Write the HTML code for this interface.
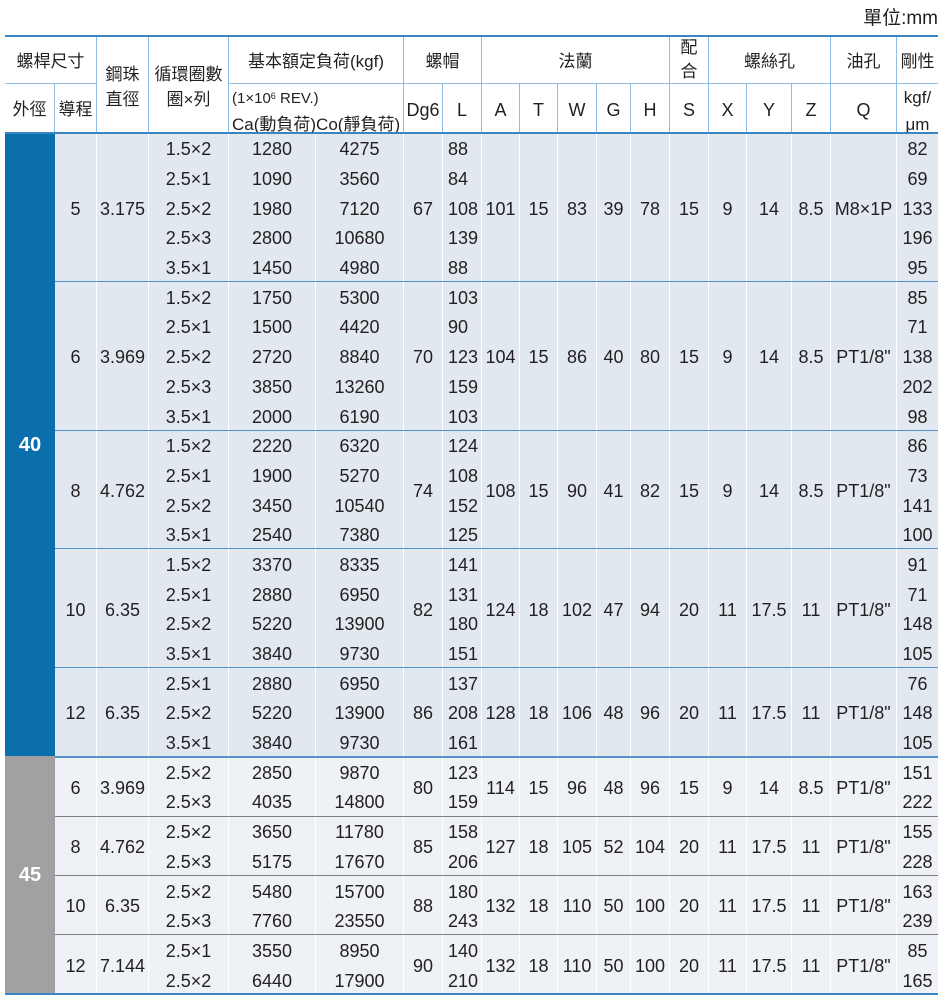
<!DOCTYPE html>
<html><head><meta charset="utf-8">
<style>
html,body{margin:0;padding:0;}
body{background:#fff;width:946px;height:1002px;position:relative;overflow:hidden;font-family:"Liberation Sans","Noto Sans CJK TC",sans-serif;color:#231f20;}
.unit{position:absolute;right:8px;top:7px;font-size:19px;line-height:24px;white-space:nowrap;}
.g{position:absolute;left:5px;top:36px;display:grid;grid-template-columns:50px 42px 52px 80px 87px 88px 39px 39px 38px 38px 39px 34px 39px 39px 38px 45px 39px 66px 41px;grid-template-rows:47px 50px repeat(29,29.7px);}
.g>i{font-style:normal;display:flex;align-items:center;justify-content:center;font-size:18px;box-sizing:border-box;white-space:nowrap;line-height:22px;}
.g>i.h{border-right:1px solid #8fbde3;font-size:17px;padding-top:4px;text-align:center;}
.g>i.h2{border-top:1px solid #8fbde3;padding-top:2px;}
.g>i.t{line-height:25px;padding-top:5px;}
.g>i.a{background:#e2e8f0;border-right:1px solid #fff;padding-top:3px;}
.g>i.b{background:#eef1f6;border-right:1px solid #fff;padding-top:3px;}
.g>i.L{justify-content:flex-start;padding-left:5px;}
.g>i.l{border-right:0;}
.g>i.bl{background:#0b6fad;color:#fff;font-weight:bold;font-size:20px;}
.g>i.gr{background:#a1a1a1;color:#fff;font-weight:bold;font-size:20px;}
.ln{position:absolute;left:55px;width:883px;height:1px;}
.bu{background:#5592c9;}
.gy{background:#7f7f7f;}
sup{font-size:9px;vertical-align:top;position:relative;top:-2px;}
</style></head><body>
<div class="unit">單位:mm</div>
<div class="g">
<!-- header row 1 -->
<i class="h" style="grid-area:1/1/2/3">螺桿尺寸</i>
<i class="h t" style="grid-area:1/3/3/4">鋼珠<br>直徑</i>
<i class="h t" style="grid-area:1/4/3/5">循環圈數<br>圈×列</i>
<i class="h" style="grid-area:1/5/2/7">基本額定負荷(kgf)</i>
<i class="h" style="grid-area:1/7/2/9">螺帽</i>
<i class="h" style="grid-area:1/9/2/14">法蘭</i>
<i class="h" style="grid-area:1/14/2/15;line-height:24px;padding-top:0">配<br>合</i>
<i class="h" style="grid-area:1/15/2/18">螺絲孔</i>
<i class="h" style="grid-area:1/18/2/19">油孔</i>
<i class="h l" style="grid-area:1/19/2/20">剛性</i>
<!-- header row 2 -->
<i class="h h2" style="grid-area:2/1">外徑</i>
<i class="h h2" style="grid-area:2/2">導程</i>
<i class="h h2" style="grid-area:2/5/3/7;justify-content:flex-start;padding-left:3px;padding-top:5px;line-height:26px;text-align:left"><span><span style="font-size:15px">(1×10<sup>6</sup> REV.)</span><br>Ca(動負荷)Co(靜負荷)</span></i>
<i class="h h2" style="grid-area:2/7;font-size:18px">Dg6</i>
<i class="h h2" style="grid-area:2/8;font-size:18px">L</i>
<i class="h h2" style="grid-area:2/9;font-size:18px">A</i>
<i class="h h2" style="grid-area:2/10;font-size:18px">T</i>
<i class="h h2" style="grid-area:2/11;font-size:18px">W</i>
<i class="h h2" style="grid-area:2/12;font-size:18px">G</i>
<i class="h h2" style="grid-area:2/13;font-size:18px">H</i>
<i class="h h2" style="grid-area:2/14;font-size:18px">S</i>
<i class="h h2" style="grid-area:2/15;font-size:18px">X</i>
<i class="h h2" style="grid-area:2/16;font-size:18px">Y</i>
<i class="h h2" style="grid-area:2/17;font-size:18px">Z</i>
<i class="h h2" style="grid-area:2/18;font-size:18px">Q</i>
<i class="h h2 l" style="grid-area:2/19;line-height:27px;padding-top:4px">kgf/<br>μm</i>

<!-- left column -->
<i class="bl" style="grid-area:3/1/24/2">40</i>
<i class="gr" style="grid-area:24/1/32/2">45</i>

<!-- G1 rows 3-7 -->
<i class="a" style="grid-area:3/2/8/3">5</i>
<i class="a" style="grid-area:3/3/8/4">3.175</i>
<i class="a" style="grid-area:3/4">1.5×2</i><i class="a" style="grid-area:3/5">1280</i><i class="a" style="grid-area:3/6">4275</i><i class="a L" style="grid-area:3/8">88</i><i class="a l" style="grid-area:3/19">82</i>
<i class="a" style="grid-area:4/4">2.5×1</i><i class="a" style="grid-area:4/5">1090</i><i class="a" style="grid-area:4/6">3560</i><i class="a L" style="grid-area:4/8">84</i><i class="a l" style="grid-area:4/19">69</i>
<i class="a" style="grid-area:5/4">2.5×2</i><i class="a" style="grid-area:5/5">1980</i><i class="a" style="grid-area:5/6">7120</i><i class="a L" style="grid-area:5/8">108</i><i class="a l" style="grid-area:5/19">133</i>
<i class="a" style="grid-area:6/4">2.5×3</i><i class="a" style="grid-area:6/5">2800</i><i class="a" style="grid-area:6/6">10680</i><i class="a L" style="grid-area:6/8">139</i><i class="a l" style="grid-area:6/19">196</i>
<i class="a" style="grid-area:7/4">3.5×1</i><i class="a" style="grid-area:7/5">1450</i><i class="a" style="grid-area:7/6">4980</i><i class="a L" style="grid-area:7/8">88</i><i class="a l" style="grid-area:7/19">95</i>
<i class="a" style="grid-area:3/7/8/8">67</i>
<i class="a" style="grid-area:3/9/8/10">101</i>
<i class="a" style="grid-area:3/10/8/11">15</i>
<i class="a" style="grid-area:3/11/8/12">83</i>
<i class="a" style="grid-area:3/12/8/13">39</i>
<i class="a" style="grid-area:3/13/8/14">78</i>
<i class="a" style="grid-area:3/14/8/15">15</i>
<i class="a" style="grid-area:3/15/8/16">9</i>
<i class="a" style="grid-area:3/16/8/17">14</i>
<i class="a" style="grid-area:3/17/8/18">8.5</i>
<i class="a" style="grid-area:3/18/8/19">M8×1P</i>

<!-- G2 rows 8-12 -->
<i class="a" style="grid-area:8/2/13/3">6</i>
<i class="a" style="grid-area:8/3/13/4">3.969</i>
<i class="a" style="grid-area:8/4">1.5×2</i><i class="a" style="grid-area:8/5">1750</i><i class="a" style="grid-area:8/6">5300</i><i class="a L" style="grid-area:8/8">103</i><i class="a l" style="grid-area:8/19">85</i>
<i class="a" style="grid-area:9/4">2.5×1</i><i class="a" style="grid-area:9/5">1500</i><i class="a" style="grid-area:9/6">4420</i><i class="a L" style="grid-area:9/8">90</i><i class="a l" style="grid-area:9/19">71</i>
<i class="a" style="grid-area:10/4">2.5×2</i><i class="a" style="grid-area:10/5">2720</i><i class="a" style="grid-area:10/6">8840</i><i class="a L" style="grid-area:10/8">123</i><i class="a l" style="grid-area:10/19">138</i>
<i class="a" style="grid-area:11/4">2.5×3</i><i class="a" style="grid-area:11/5">3850</i><i class="a" style="grid-area:11/6">13260</i><i class="a L" style="grid-area:11/8">159</i><i class="a l" style="grid-area:11/19">202</i>
<i class="a" style="grid-area:12/4">3.5×1</i><i class="a" style="grid-area:12/5">2000</i><i class="a" style="grid-area:12/6">6190</i><i class="a L" style="grid-area:12/8">103</i><i class="a l" style="grid-area:12/19">98</i>
<i class="a" style="grid-area:8/7/13/8">70</i>
<i class="a" style="grid-area:8/9/13/10">104</i>
<i class="a" style="grid-area:8/10/13/11">15</i>
<i class="a" style="grid-area:8/11/13/12">86</i>
<i class="a" style="grid-area:8/12/13/13">40</i>
<i class="a" style="grid-area:8/13/13/14">80</i>
<i class="a" style="grid-area:8/14/13/15">15</i>
<i class="a" style="grid-area:8/15/13/16">9</i>
<i class="a" style="grid-area:8/16/13/17">14</i>
<i class="a" style="grid-area:8/17/13/18">8.5</i>
<i class="a" style="grid-area:8/18/13/19">PT1/8"</i>

<!-- G3 rows 13-16 -->
<i class="a" style="grid-area:13/2/17/3">8</i>
<i class="a" style="grid-area:13/3/17/4">4.762</i>
<i class="a" style="grid-area:13/4">1.5×2</i><i class="a" style="grid-area:13/5">2220</i><i class="a" style="grid-area:13/6">6320</i><i class="a L" style="grid-area:13/8">124</i><i class="a l" style="grid-area:13/19">86</i>
<i class="a" style="grid-area:14/4">2.5×1</i><i class="a" style="grid-area:14/5">1900</i><i class="a" style="grid-area:14/6">5270</i><i class="a L" style="grid-area:14/8">108</i><i class="a l" style="grid-area:14/19">73</i>
<i class="a" style="grid-area:15/4">2.5×2</i><i class="a" style="grid-area:15/5">3450</i><i class="a" style="grid-area:15/6">10540</i><i class="a L" style="grid-area:15/8">152</i><i class="a l" style="grid-area:15/19">141</i>
<i class="a" style="grid-area:16/4">3.5×1</i><i class="a" style="grid-area:16/5">2540</i><i class="a" style="grid-area:16/6">7380</i><i class="a L" style="grid-area:16/8">125</i><i class="a l" style="grid-area:16/19">100</i>
<i class="a" style="grid-area:13/7/17/8">74</i>
<i class="a" style="grid-area:13/9/17/10">108</i>
<i class="a" style="grid-area:13/10/17/11">15</i>
<i class="a" style="grid-area:13/11/17/12">90</i>
<i class="a" style="grid-area:13/12/17/13">41</i>
<i class="a" style="grid-area:13/13/17/14">82</i>
<i class="a" style="grid-area:13/14/17/15">15</i>
<i class="a" style="grid-area:13/15/17/16">9</i>
<i class="a" style="grid-area:13/16/17/17">14</i>
<i class="a" style="grid-area:13/17/17/18">8.5</i>
<i class="a" style="grid-area:13/18/17/19">PT1/8"</i>

<!-- G4 rows 17-20 -->
<i class="a" style="grid-area:17/2/21/3">10</i>
<i class="a" style="grid-area:17/3/21/4">6.35</i>
<i class="a" style="grid-area:17/4">1.5×2</i><i class="a" style="grid-area:17/5">3370</i><i class="a" style="grid-area:17/6">8335</i><i class="a L" style="grid-area:17/8">141</i><i class="a l" style="grid-area:17/19">91</i>
<i class="a" style="grid-area:18/4">2.5×1</i><i class="a" style="grid-area:18/5">2880</i><i class="a" style="grid-area:18/6">6950</i><i class="a L" style="grid-area:18/8">131</i><i class="a l" style="grid-area:18/19">71</i>
<i class="a" style="grid-area:19/4">2.5×2</i><i class="a" style="grid-area:19/5">5220</i><i class="a" style="grid-area:19/6">13900</i><i class="a L" style="grid-area:19/8">180</i><i class="a l" style="grid-area:19/19">148</i>
<i class="a" style="grid-area:20/4">3.5×1</i><i class="a" style="grid-area:20/5">3840</i><i class="a" style="grid-area:20/6">9730</i><i class="a L" style="grid-area:20/8">151</i><i class="a l" style="grid-area:20/19">105</i>
<i class="a" style="grid-area:17/7/21/8">82</i>
<i class="a" style="grid-area:17/9/21/10">124</i>
<i class="a" style="grid-area:17/10/21/11">18</i>
<i class="a" style="grid-area:17/11/21/12">102</i>
<i class="a" style="grid-area:17/12/21/13">47</i>
<i class="a" style="grid-area:17/13/21/14">94</i>
<i class="a" style="grid-area:17/14/21/15">20</i>
<i class="a" style="grid-area:17/15/21/16">11</i>
<i class="a" style="grid-area:17/16/21/17">17.5</i>
<i class="a" style="grid-area:17/17/21/18">11</i>
<i class="a" style="grid-area:17/18/21/19">PT1/8"</i>

<!-- G5 rows 21-23 -->
<i class="a" style="grid-area:21/2/24/3">12</i>
<i class="a" style="grid-area:21/3/24/4">6.35</i>
<i class="a" style="grid-area:21/4">2.5×1</i><i class="a" style="grid-area:21/5">2880</i><i class="a" style="grid-area:21/6">6950</i><i class="a L" style="grid-area:21/8">137</i><i class="a l" style="grid-area:21/19">76</i>
<i class="a" style="grid-area:22/4">2.5×2</i><i class="a" style="grid-area:22/5">5220</i><i class="a" style="grid-area:22/6">13900</i><i class="a L" style="grid-area:22/8">208</i><i class="a l" style="grid-area:22/19">148</i>
<i class="a" style="grid-area:23/4">3.5×1</i><i class="a" style="grid-area:23/5">3840</i><i class="a" style="grid-area:23/6">9730</i><i class="a L" style="grid-area:23/8">161</i><i class="a l" style="grid-area:23/19">105</i>
<i class="a" style="grid-area:21/7/24/8">86</i>
<i class="a" style="grid-area:21/9/24/10">128</i>
<i class="a" style="grid-area:21/10/24/11">18</i>
<i class="a" style="grid-area:21/11/24/12">106</i>
<i class="a" style="grid-area:21/12/24/13">48</i>
<i class="a" style="grid-area:21/13/24/14">96</i>
<i class="a" style="grid-area:21/14/24/15">20</i>
<i class="a" style="grid-area:21/15/24/16">11</i>
<i class="a" style="grid-area:21/16/24/17">17.5</i>
<i class="a" style="grid-area:21/17/24/18">11</i>
<i class="a" style="grid-area:21/18/24/19">PT1/8"</i>

<!-- H1 rows 24-25 -->
<i class="b" style="grid-area:24/2/26/3">6</i>
<i class="b" style="grid-area:24/3/26/4">3.969</i>
<i class="b" style="grid-area:24/4">2.5×2</i><i class="b" style="grid-area:24/5">2850</i><i class="b" style="grid-area:24/6">9870</i><i class="b L" style="grid-area:24/8">123</i><i class="b l" style="grid-area:24/19">151</i>
<i class="b" style="grid-area:25/4">2.5×3</i><i class="b" style="grid-area:25/5">4035</i><i class="b" style="grid-area:25/6">14800</i><i class="b L" style="grid-area:25/8">159</i><i class="b l" style="grid-area:25/19">222</i>
<i class="b" style="grid-area:24/7/26/8">80</i>
<i class="b" style="grid-area:24/9/26/10">114</i>
<i class="b" style="grid-area:24/10/26/11">15</i>
<i class="b" style="grid-area:24/11/26/12">96</i>
<i class="b" style="grid-area:24/12/26/13">48</i>
<i class="b" style="grid-area:24/13/26/14">96</i>
<i class="b" style="grid-area:24/14/26/15">15</i>
<i class="b" style="grid-area:24/15/26/16">9</i>
<i class="b" style="grid-area:24/16/26/17">14</i>
<i class="b" style="grid-area:24/17/26/18">8.5</i>
<i class="b" style="grid-area:24/18/26/19">PT1/8"</i>

<!-- H2 rows 26-27 -->
<i class="b" style="grid-area:26/2/28/3">8</i>
<i class="b" style="grid-area:26/3/28/4">4.762</i>
<i class="b" style="grid-area:26/4">2.5×2</i><i class="b" style="grid-area:26/5">3650</i><i class="b" style="grid-area:26/6">11780</i><i class="b L" style="grid-area:26/8">158</i><i class="b l" style="grid-area:26/19">155</i>
<i class="b" style="grid-area:27/4">2.5×3</i><i class="b" style="grid-area:27/5">5175</i><i class="b" style="grid-area:27/6">17670</i><i class="b L" style="grid-area:27/8">206</i><i class="b l" style="grid-area:27/19">228</i>
<i class="b" style="grid-area:26/7/28/8">85</i>
<i class="b" style="grid-area:26/9/28/10">127</i>
<i class="b" style="grid-area:26/10/28/11">18</i>
<i class="b" style="grid-area:26/11/28/12">105</i>
<i class="b" style="grid-area:26/12/28/13">52</i>
<i class="b" style="grid-area:26/13/28/14">104</i>
<i class="b" style="grid-area:26/14/28/15">20</i>
<i class="b" style="grid-area:26/15/28/16">11</i>
<i class="b" style="grid-area:26/16/28/17">17.5</i>
<i class="b" style="grid-area:26/17/28/18">11</i>
<i class="b" style="grid-area:26/18/28/19">PT1/8"</i>

<!-- H3 rows 28-29 -->
<i class="b" style="grid-area:28/2/30/3">10</i>
<i class="b" style="grid-area:28/3/30/4">6.35</i>
<i class="b" style="grid-area:28/4">2.5×2</i><i class="b" style="grid-area:28/5">5480</i><i class="b" style="grid-area:28/6">15700</i><i class="b L" style="grid-area:28/8">180</i><i class="b l" style="grid-area:28/19">163</i>
<i class="b" style="grid-area:29/4">2.5×3</i><i class="b" style="grid-area:29/5">7760</i><i class="b" style="grid-area:29/6">23550</i><i class="b L" style="grid-area:29/8">243</i><i class="b l" style="grid-area:29/19">239</i>
<i class="b" style="grid-area:28/7/30/8">88</i>
<i class="b" style="grid-area:28/9/30/10">132</i>
<i class="b" style="grid-area:28/10/30/11">18</i>
<i class="b" style="grid-area:28/11/30/12">110</i>
<i class="b" style="grid-area:28/12/30/13">50</i>
<i class="b" style="grid-area:28/13/30/14">100</i>
<i class="b" style="grid-area:28/14/30/15">20</i>
<i class="b" style="grid-area:28/15/30/16">11</i>
<i class="b" style="grid-area:28/16/30/17">17.5</i>
<i class="b" style="grid-area:28/17/30/18">11</i>
<i class="b" style="grid-area:28/18/30/19">PT1/8"</i>

<!-- H4 rows 30-31 -->
<i class="b" style="grid-area:30/2/32/3">12</i>
<i class="b" style="grid-area:30/3/32/4">7.144</i>
<i class="b" style="grid-area:30/4">2.5×1</i><i class="b" style="grid-area:30/5">3550</i><i class="b" style="grid-area:30/6">8950</i><i class="b L" style="grid-area:30/8">140</i><i class="b l" style="grid-area:30/19">85</i>
<i class="b" style="grid-area:31/4">2.5×2</i><i class="b" style="grid-area:31/5">6440</i><i class="b" style="grid-area:31/6">17900</i><i class="b L" style="grid-area:31/8">210</i><i class="b l" style="grid-area:31/19">165</i>
<i class="b" style="grid-area:30/7/32/8">90</i>
<i class="b" style="grid-area:30/9/32/10">132</i>
<i class="b" style="grid-area:30/10/32/11">18</i>
<i class="b" style="grid-area:30/11/32/12">110</i>
<i class="b" style="grid-area:30/12/32/13">50</i>
<i class="b" style="grid-area:30/13/32/14">100</i>
<i class="b" style="grid-area:30/14/32/15">20</i>
<i class="b" style="grid-area:30/15/32/16">11</i>
<i class="b" style="grid-area:30/16/32/17">17.5</i>
<i class="b" style="grid-area:30/17/32/18">11</i>
<i class="b" style="grid-area:30/18/32/19">PT1/8"</i>
</div>

<!-- lines -->
<div style="position:absolute;left:5px;top:35px;width:933px;height:2px;background:#3a84c3"></div>
<div style="position:absolute;left:5px;top:132px;width:933px;height:2px;background:#3a84c3"></div>
<div class="ln bu" style="top:281px"></div>
<div class="ln bu" style="top:430px"></div>
<div class="ln bu" style="top:548px"></div>
<div class="ln bu" style="top:667px"></div>
<div class="ln bu" style="top:756px;height:1.5px"></div>
<div class="ln gy" style="top:816px"></div>
<div class="ln gy" style="top:875px"></div>
<div class="ln gy" style="top:934px"></div>
<div style="position:absolute;left:5px;top:993px;width:933px;height:2px;background:#3a84c3"></div>
</body></html>
